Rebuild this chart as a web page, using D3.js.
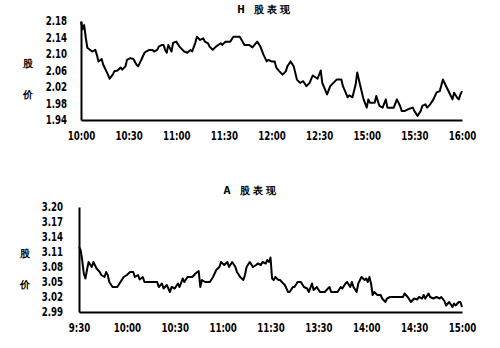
<!DOCTYPE html>
<html>
<head>
<meta charset="utf-8">
<script src="https://cdn.jsdelivr.net/npm/d3@7"></script>
<style>
  body { margin: 0; background: #fff; }
  svg text { font-family: "Liberation Sans Narrow", "DejaVu Sans Condensed", sans-serif; font-weight: bold; fill: #000; }
</style>
</head>
<body>
<svg id="canvas"></svg>
<script>
const width = 500;
const height = 348;

// H share panel
const hTickLabels = ["10:00", "10:30", "11:00", "11:30", "12:00", "12:30", "15:00", "15:30", "16:00"];
const hYTicks = [1.94, 1.98, 2.02, 2.06, 2.10, 2.14, 2.18];
const hMinutes = [0,1,2,3,4,7,9,10,11,13,14,16,17,18,20,21,23,25,26,28,29,31,33,35,36,37,38,40,41,43,45,46,48,49,51,52,53,54,55,57,58,60,62,64,65,67,69,70,72,73,75,77,78,80,81,83,85,88,89,91,94,96,100,103,106,108,111,113,115,117,118,120,122,123,125,127,129,130,132,134,136,138,140,142,144,146,149,151,152,155,157,159,161,164,165,168,169,171,173,174,176,178,180,181,182,185,186,188,190,192,193,197,199,201,202,204,206,209,210,212,214,215,217,218,220,222,224,226,228,231,232,234,235,237,238,239,240];
const hPrices = [2.178,2.16,2.17,2.14,2.115,2.106,2.11,2.098,2.082,2.088,2.074,2.058,2.05,2.04,2.05,2.058,2.06,2.067,2.062,2.07,2.086,2.09,2.088,2.074,2.07,2.078,2.086,2.103,2.106,2.11,2.11,2.106,2.11,2.118,2.122,2.122,2.11,2.103,2.122,2.106,2.127,2.13,2.118,2.11,2.106,2.103,2.11,2.106,2.127,2.142,2.134,2.138,2.13,2.126,2.118,2.11,2.118,2.126,2.122,2.13,2.13,2.142,2.142,2.122,2.122,2.116,2.13,2.118,2.098,2.082,2.086,2.082,2.082,2.067,2.058,2.05,2.058,2.07,2.082,2.07,2.038,2.03,2.034,2.022,2.03,2.048,2.04,2.06,2.03,2.002,2.022,2.03,2.038,2.038,2.022,1.995,2.0,1.995,2.026,2.055,2.022,1.99,1.97,1.99,1.982,1.982,1.998,1.974,1.97,1.99,1.97,1.97,1.99,1.974,1.962,1.962,1.966,1.97,1.962,1.95,1.962,1.974,1.978,1.97,1.978,1.99,2.007,2.01,2.038,2.014,2.006,1.99,2.006,1.994,1.99,2.002,2.01];

// A share panel
const aTickLabels = ["9:30", "10:00", "10:30", "11:00", "11:30", "13:30", "14:00", "14:30", "15:00"];
const aYTicks = [2.99, 3.02, 3.05, 3.08, 3.11, 3.14, 3.17, 3.20];
const aMinutes = [0,1,2,3,4,5,6,8,9,11,13,14,16,17,18,19,21,24,26,28,30,32,34,35,37,38,40,41,44,49,50,52,53,55,57,58,60,62,63,65,66,68,71,73,75,76,77,79,82,84,86,88,89,91,93,94,96,98,99,101,103,104,105,107,109,111,112,114,115,117,118,119,120,121,122,123,125,126,128,129,131,132,134,135,137,139,141,143,144,146,147,149,151,154,156,157,158,162,164,165,167,168,170,171,172,174,175,177,179,180,181,182,183,184,185,187,189,190,192,193,195,199,203,204,206,207,208,210,212,213,215,216,217,219,220,222,224,226,227,229,230,232,234,235,236,238,239,240];
const aPrices = [3.120,3.114,3.094,3.067,3.057,3.074,3.090,3.080,3.090,3.077,3.070,3.064,3.060,3.070,3.064,3.050,3.040,3.040,3.050,3.060,3.064,3.070,3.070,3.060,3.064,3.055,3.060,3.050,3.050,3.050,3.040,3.047,3.037,3.044,3.030,3.040,3.037,3.047,3.040,3.057,3.050,3.060,3.060,3.067,3.072,3.040,3.054,3.050,3.050,3.060,3.074,3.080,3.090,3.084,3.090,3.080,3.090,3.080,3.070,3.060,3.054,3.064,3.080,3.090,3.080,3.084,3.087,3.084,3.090,3.087,3.094,3.090,3.099,3.057,3.054,3.060,3.054,3.054,3.047,3.044,3.030,3.030,3.040,3.040,3.050,3.050,3.040,3.037,3.030,3.047,3.034,3.040,3.030,3.030,3.037,3.040,3.030,3.030,3.040,3.037,3.047,3.050,3.040,3.050,3.040,3.030,3.047,3.060,3.054,3.057,3.050,3.060,3.047,3.024,3.030,3.024,3.024,3.017,3.010,3.017,3.020,3.020,3.020,3.027,3.020,3.015,3.010,3.017,3.015,3.020,3.017,3.024,3.017,3.027,3.020,3.017,3.020,3.017,3.020,3.012,3.003,3.010,3.000,3.007,3.003,3.010,3.010,3.000];

let canvas = d3.select("#canvas").attr("width", width).attr("height", height);

// squeeze text horizontally to mimic the condensed face of the original
const squeeze = (sel, k) => {
    sel.each(function () {
        const w = this.getComputedTextLength();
        d3.select(this).attr("textLength", w * k).attr("lengthAdjust", "spacingAndGlyphs");
    });
};

const drawPanel = (opts) => {
    const g = canvas.append("g");
    const x = d3.scaleLinear().domain([0, 240]).range([opts.left, opts.right]);
    const y = d3.scaleLinear().domain(opts.yDomain).range([opts.bottom, opts.top]);

    // title
    g.append("text")
        .attr("x", opts.titleX)
        .attr("y", opts.titleY)
        .attr("text-anchor", "middle")
        .style("font-size", "10px")
        .style("letter-spacing", "3px")
        .text(opts.title);

    // y label, two stacked chars
    g.selectAll(".ylab")
        .data(["股", "价"])
        .enter()
        .append("text")
        .attr("x", opts.yLabelX)
        .attr("y", (d, i) => opts.yLabelY + i * 31)
        .attr("text-anchor", "middle")
        .style("font-size", "10px")
        .text(d => d);

    const yAxis = g.append("g")
        .attr("transform", `translate(${opts.left},0)`)
        .call(d3.axisLeft(y).tickValues(opts.yTicks).tickFormat(d3.format(".2f")).tickSize(0).tickPadding(opts.yPad));
    yAxis.select(".domain").attr("stroke-width", 2);

    const xAxis = g.append("g")
        .attr("transform", `translate(0,${opts.bottom})`)
        .call(d3.axisBottom(x).tickValues(d3.range(0, 241, 30)).tickFormat((d, i) => opts.labels[i]).tickSize(0).tickPadding(11));
    xAxis.select(".domain").attr("stroke-width", 2);

    g.selectAll(".tick text").style("font-size", "12px").call(squeeze, 0.8);

    const line = d3.line()
        .x((d, i) => x(opts.minutes[i]))
        .y(d => y(d));

    g.append("path")
        .datum(opts.prices)
        .attr("d", line)
        .attr("fill", "none")
        .attr("stroke", "#000")
        .attr("stroke-width", 2)
        .attr("stroke-linejoin", "round");
};

drawPanel({
    title: "H 股表现", titleX: 265, titleY: 13,
    left: 81, right: 462, top: 21, bottom: 120,
    yDomain: [1.94, 2.18], yTicks: hYTicks, yPad: 14,
    labels: hTickLabels, minutes: hMinutes, prices: hPrices,
    yLabelX: 28, yLabelY: 67
});

drawPanel({
    title: "A 股表现", titleX: 251, titleY: 194,
    left: 79, right: 462, top: 207, bottom: 312,
    yDomain: [2.99, 3.20], yTicks: aYTicks, yPad: 16,
    labels: aTickLabels, minutes: aMinutes, prices: aPrices,
    yLabelX: 25, yLabelY: 257
});
</script>
</body>
</html>
